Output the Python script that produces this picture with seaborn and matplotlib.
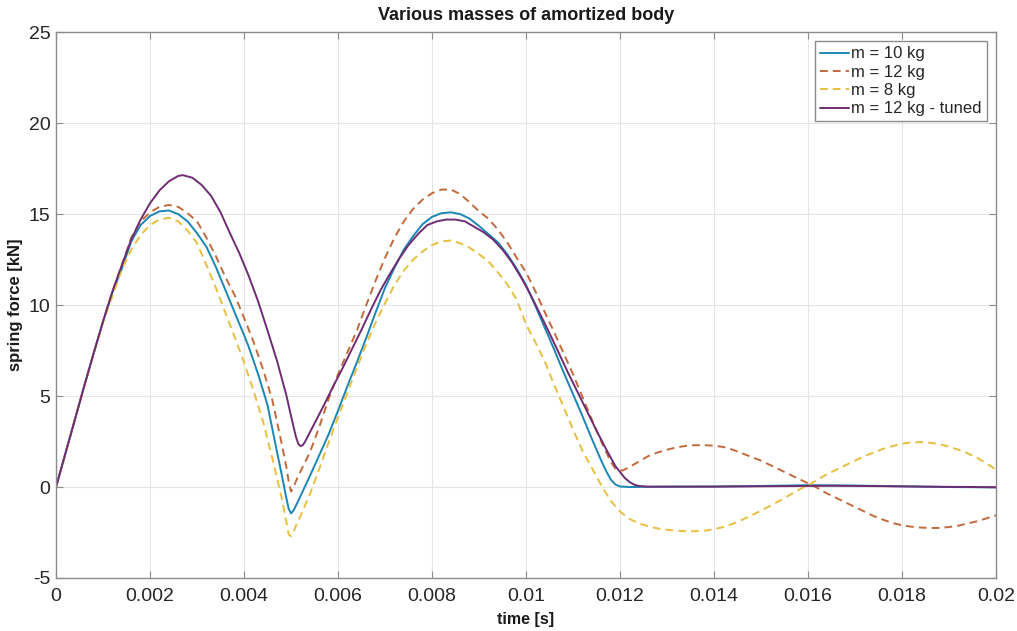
import numpy as np
import pandas as pd
import seaborn as sns
import matplotlib
matplotlib.use("Agg")
import matplotlib.pyplot as plt

# time [s] and spring force [kN] for each mass case
t_m10 = [0, 0.0002, 0.0004, 0.0006, 0.0008, 0.001, 0.0012, 0.0014, 0.0016, 0.0018,
         0.002, 0.0022, 0.0024, 0.0026, 0.0028, 0.003, 0.0032, 0.0034, 0.0036, 0.0038,
         0.004, 0.0041, 0.0043, 0.0045, 0.0047, 0.0048, 0.0049, 0.00495, 0.005, 0.00505,
         0.0051, 0.0052, 0.0054, 0.0056, 0.0058, 0.006, 0.0062, 0.0064, 0.0066, 0.0068,
         0.007, 0.0072, 0.0074, 0.0076, 0.0078, 0.008, 0.0082, 0.0084, 0.0086, 0.0088,
         0.009, 0.0092, 0.0094, 0.0096, 0.0098, 0.01, 0.0102, 0.0104, 0.0106, 0.0108,
         0.011, 0.0112, 0.0114, 0.0116, 0.0117, 0.0118, 0.0119, 0.012, 0.0122, 0.013,
         0.014, 0.015, 0.016, 0.017, 0.018, 0.019, 0.02]
f_m10 = [0, 1.85, 3.7, 5.55, 7.35, 9.1, 10.7, 12.0, 13.5, 14.4,
         14.9, 15.15, 15.2, 15.0, 14.6, 13.95, 13.2, 12.1, 10.85, 9.6,
         8.35, 7.7, 6.2, 4.5, 1.95, 0.7, -0.6, -1.2, -1.45, -1.3,
         -1.05, -0.5, 0.6, 1.75, 2.9, 4.2, 5.55, 6.85, 8.2, 9.6,
         10.95, 12.05, 13.05, 13.8, 14.45, 14.85, 15.05, 15.1, 15.0, 14.75,
         14.35, 13.9, 13.45, 12.8, 12.0, 11.1, 9.95, 8.75, 7.55, 6.3,
         5.1, 3.9, 2.65, 1.45, 0.9, 0.42, 0.14, 0.03, 0.0, 0.02,
         0.03, 0.06, 0.1, 0.08, 0.04, 0.0, -0.02]

t_m12 = [0, 0.0002, 0.0004, 0.0006, 0.0008, 0.001, 0.0012, 0.0014, 0.0016, 0.0018,
         0.002, 0.0022, 0.0024, 0.0026, 0.0028, 0.003, 0.0032, 0.0034, 0.0036, 0.0038,
         0.004, 0.0042, 0.0044, 0.0046, 0.0048, 0.0049, 0.00495, 0.005, 0.00505, 0.0051,
         0.0052, 0.0054, 0.0056, 0.0058, 0.006, 0.0062, 0.0064, 0.0066, 0.0068, 0.007,
         0.0072, 0.0074, 0.0076, 0.0078, 0.008, 0.0082, 0.0084, 0.0086, 0.0088, 0.009,
         0.0092, 0.0094, 0.0096, 0.0098, 0.01, 0.0102, 0.0104, 0.0106, 0.0108, 0.011,
         0.0112, 0.0114, 0.0116, 0.0118, 0.0119, 0.01205, 0.0122, 0.0124, 0.0126, 0.0128,
         0.013, 0.0132, 0.0134, 0.0136, 0.0138, 0.014, 0.0142, 0.0144, 0.0146, 0.0148,
         0.015, 0.0152, 0.0154, 0.0156, 0.0158, 0.016, 0.0162, 0.0164, 0.0166, 0.0168,
         0.017, 0.0172, 0.0174, 0.0176, 0.0178, 0.018, 0.0182, 0.0184, 0.0186, 0.0188,
         0.019, 0.0192, 0.0194, 0.0196, 0.0198, 0.02]
f_m12 = [0, 1.85, 3.7, 5.55, 7.35, 9.1, 10.75, 12.2, 13.7, 14.6,
         15.1, 15.4, 15.5, 15.4, 15.05, 14.6, 13.7, 12.7, 11.55, 10.55,
         9.3, 8.0, 6.5, 4.8, 2.4, 1.1, 0.3, -0.25, -0.05, 0.3,
         0.85, 1.9, 3.3, 4.85, 6.2, 7.4, 8.6, 10.0, 11.35, 12.6,
         13.7, 14.6, 15.3, 15.8, 16.15, 16.35, 16.35, 16.1, 15.65, 15.15,
         14.75, 14.15, 13.45, 12.6, 11.8, 10.75, 9.6, 8.5, 7.35, 6.2,
         4.95, 3.7, 2.5, 1.4, 1.0, 0.9, 1.1, 1.4, 1.7, 1.9,
         2.05, 2.18, 2.26, 2.3, 2.3, 2.27, 2.2, 2.05, 1.85, 1.65,
         1.45, 1.2, 0.95, 0.7, 0.45, 0.2, -0.05, -0.35, -0.6, -0.85,
         -1.1, -1.35, -1.6, -1.8, -1.98, -2.1, -2.18, -2.23, -2.25, -2.25,
         -2.2, -2.12, -2.0, -1.88, -1.72, -1.55]

t_m8 = [0, 0.0002, 0.0004, 0.0006, 0.0008, 0.001, 0.0012, 0.0014, 0.0016, 0.0018,
        0.002, 0.0022, 0.0024, 0.0026, 0.0028, 0.003, 0.0032, 0.0034, 0.0036, 0.0038,
        0.004, 0.0042, 0.0044, 0.0046, 0.0048, 0.0049, 0.00495, 0.005, 0.00505, 0.0051,
        0.0052, 0.0054, 0.0056, 0.0058, 0.006, 0.0062, 0.0064, 0.0066, 0.0068, 0.007,
        0.0072, 0.0074, 0.0076, 0.0078, 0.008, 0.0082, 0.0084, 0.0086, 0.0088, 0.009,
        0.0092, 0.0094, 0.0096, 0.0098, 0.01, 0.0102, 0.0104, 0.0106, 0.0108, 0.011,
        0.0112, 0.0114, 0.0116, 0.0118, 0.012, 0.0122, 0.0124, 0.0126, 0.0128, 0.013,
        0.0132, 0.0134, 0.0136, 0.0138, 0.014, 0.0142, 0.0144, 0.0146, 0.0148, 0.015,
        0.0152, 0.0154, 0.0156, 0.0158, 0.016, 0.0162, 0.0164, 0.0166, 0.0168, 0.017,
        0.0172, 0.0174, 0.0176, 0.0178, 0.018, 0.0182, 0.0184, 0.0186, 0.0188, 0.019,
        0.0192, 0.0194, 0.0196, 0.0198, 0.02]
f_m8 = [0, 1.85, 3.7, 5.55, 7.35, 9.05, 10.5, 11.95, 13.05, 13.85,
        14.4, 14.7, 14.8, 14.6, 14.1, 13.4, 12.2, 10.95, 9.6, 8.25,
        6.85, 5.3, 3.65, 1.6, -0.6, -1.9, -2.6, -2.7, -2.5, -2.15,
        -1.6, -0.4, 1.0, 2.45, 3.85, 5.2, 6.55, 7.85, 9.05, 10.1,
        11.1, 11.9, 12.5, 12.95, 13.3, 13.5, 13.55, 13.4, 13.15, 12.8,
        12.4, 11.8, 11.15, 10.3, 8.95, 7.95, 6.9, 5.6, 4.4, 3.15,
        2.0, 1.05, 0.1, -0.75, -1.35, -1.75, -2.0, -2.15, -2.28, -2.35,
        -2.4, -2.43, -2.43, -2.4, -2.32, -2.2, -2.02, -1.8, -1.55, -1.3,
        -1.02, -0.75, -0.45, -0.15, 0.1, 0.4, 0.7, 0.95, 1.2, 1.45,
        1.7, 1.9, 2.1, 2.25, 2.38, 2.45, 2.47, 2.43, 2.35, 2.22,
        2.05, 1.85, 1.6, 1.3, 0.95]

t_m12t = [0, 0.0002, 0.0004, 0.0006, 0.0008, 0.001, 0.0012, 0.0014, 0.0016, 0.0018,
          0.002, 0.0022, 0.0024, 0.0026, 0.0027, 0.0029, 0.0031, 0.0033, 0.0035, 0.0037,
          0.0039, 0.0041, 0.0043, 0.0045, 0.0047, 0.0049, 0.005, 0.0051, 0.00515, 0.0052,
          0.00525, 0.0053, 0.0055, 0.0057, 0.0059, 0.0061, 0.0063, 0.0065, 0.0067, 0.0069,
          0.0071, 0.0073, 0.0075, 0.0077, 0.0079, 0.0081, 0.0083, 0.0085, 0.0087, 0.0089,
          0.0091, 0.0093, 0.0095, 0.0097, 0.0099, 0.0101, 0.0103, 0.0105, 0.0107, 0.0109,
          0.0111, 0.0113, 0.0115, 0.0117, 0.0119, 0.0121, 0.0122, 0.0123, 0.0124, 0.0126,
          0.014, 0.0155, 0.0165, 0.0175, 0.0185, 0.02]
f_m12t = [0, 1.85, 3.7, 5.55, 7.35, 9.1, 10.75, 12.2, 13.6, 14.7,
          15.6, 16.3, 16.8, 17.1, 17.14, 17.0, 16.6, 16.0, 15.1, 13.95,
          12.85, 11.6, 10.2, 8.6, 6.95, 5.05, 3.9, 2.8, 2.4, 2.25,
          2.3, 2.5, 3.5, 4.5, 5.55, 6.55, 7.6, 8.65, 9.75, 10.8,
          11.7, 12.55, 13.3, 13.9, 14.4, 14.6, 14.7, 14.7, 14.6, 14.3,
          14.0, 13.6, 13.05, 12.35, 11.5, 10.55, 9.5, 8.45, 7.35, 6.25,
          5.2, 4.15, 3.1, 2.1, 1.15, 0.5, 0.28, 0.13, 0.06, 0.02,
          0.02, 0.05, 0.07, 0.05, 0.02, -0.01]

labels = ["m = 10 kg", "m = 12 kg", "m = 8 kg", "m = 12 kg - tuned"]
colors = ["#1b86b4", "#c26a3c", "#e8bf3e", "#6e2c73"]
styles = ["-", "--", "--", "-"]
series = [(t_m10, f_m10), (t_m12, f_m12), (t_m8, f_m8), (t_m12t, f_m12t)]

x_ticks = [0, 0.002, 0.004, 0.006, 0.008, 0.01, 0.012, 0.014, 0.016, 0.018, 0.02]
x_ticklabels = ["0", "0.002", "0.004", "0.006", "0.008", "0.01", "0.012", "0.014",
                "0.016", "0.018", "0.02"]
y_ticks = [-5, 0, 5, 10, 15, 20, 25]
y_ticklabels = ["-5", "0", "5", "10", "15", "20", "25"]

sns.set_theme(style="whitegrid")
plt.rcParams["font.family"] = ["Liberation Sans", "DejaVu Sans"]
plt.rcParams["axes.unicode_minus"] = False

fig = plt.figure(figsize=(10.17, 6.31), dpi=100)
ax = fig.add_axes([0.0551, 0.084, 0.9243, 0.865])

for (t, f), lab, col, ls in zip(series, labels, colors, styles):
    df = pd.DataFrame({"t": t, "f": f})
    sns.lineplot(data=df, x="t", y="f", ax=ax, color=col, label=lab,
                 linewidth=1.4, sort=False, estimator=None)
    line = ax.get_lines()[-1]
    line.set_linestyle(ls)
    line.set_solid_joinstyle("round")
    if ls == "--":
        line.set_dashes((4, 2.6))

ax.set_xlim(0, 0.02)
ax.set_ylim(-5, 25)
ax.set_xticks(x_ticks)
ax.set_xticklabels(x_ticklabels)
ax.set_yticks(y_ticks)
ax.set_yticklabels(y_ticklabels)
ax.set_facecolor("white")
ax.grid(True, color="#e6e6e6", linewidth=0.8)
for sp in ax.spines.values():
    sp.set_color("#8c8c8c")
    sp.set_linewidth(1.0)
ax.tick_params(axis="both", which="both", direction="in", length=5, width=0.8,
               color="#8c8c8c", labelsize=14, labelcolor="#262626",
               top=True, right=True, bottom=True, left=True)
ax.tick_params(axis="x", pad=7)
ax.tick_params(axis="y", pad=4)

ax.set_title("Various masses of amortized body", fontsize=13, fontweight="bold",
             color="#1a1a1a", pad=9)
ax.set_xlabel("time [s]", fontsize=11.5, fontweight="bold", color="#1a1a1a", labelpad=5)
ax.set_ylabel("spring force [kN]", fontsize=12, fontweight="bold", color="#1a1a1a",
              labelpad=4)

leg = ax.legend(loc="upper right", fontsize=12, frameon=True, fancybox=False,
                handlelength=1.75, handletextpad=0.15, borderpad=0.3, labelspacing=0.2,
                borderaxespad=0.55)
leg.get_frame().set_edgecolor("#8c8c8c")
leg.get_frame().set_linewidth(1.0)
leg.get_frame().set_alpha(1.0)

fig.savefig("out.png", dpi=100, facecolor="white")
